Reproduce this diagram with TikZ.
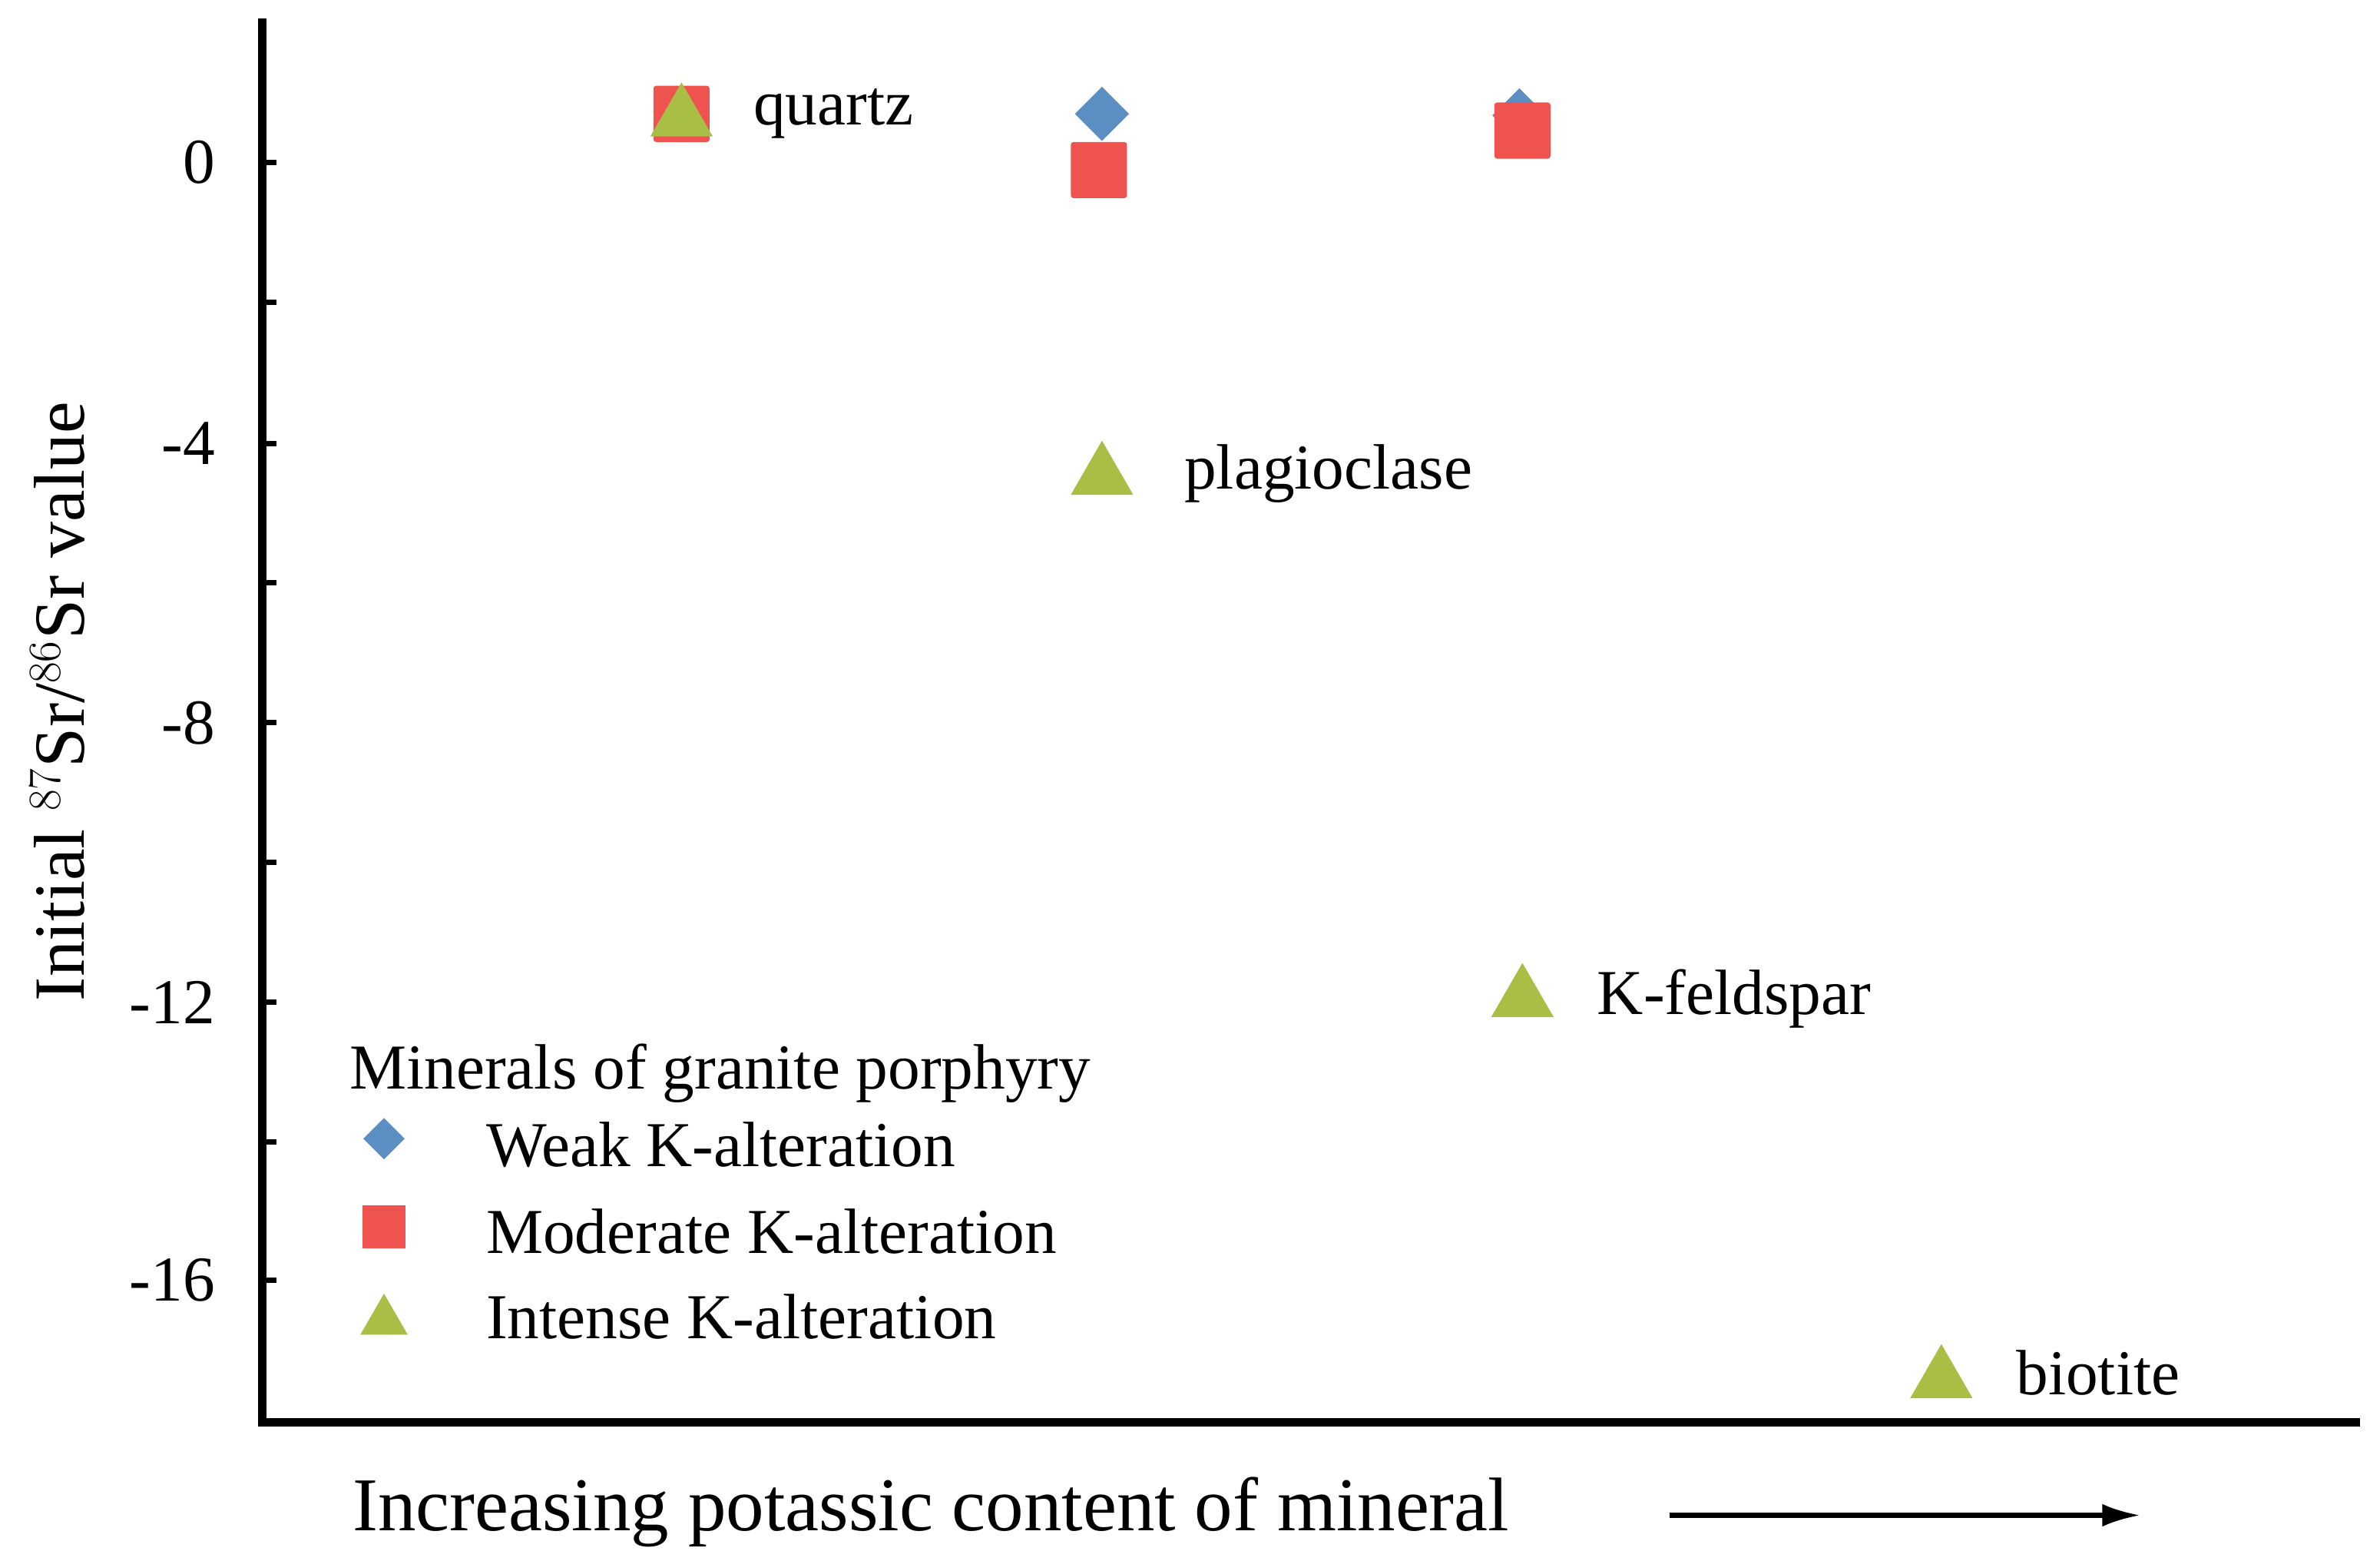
\documentclass[tikz,border=0pt]{standalone}
\usepackage{fontspec}
\setmainfont{Liberation Serif}
\usetikzlibrary{shapes.geometric,arrows.meta}
\definecolor{cblue}{HTML}{5B8FC4}
\definecolor{cred}{HTML}{EE5350}
\definecolor{cgreen}{HTML}{A9BE45}
\begin{document}
\begin{tikzpicture}[x=0.02cm,y=-0.02cm,
  txt/.style={font=\fontsize{24}{27}\selectfont,inner sep=0pt},
  dia/.style={diamond,fill=cblue,inner sep=0pt,minimum size=0.72cm},
  sq/.style={rectangle,fill=cred,inner sep=0pt,minimum size=0.74cm,rounded corners=1pt},
  tri/.style={regular polygon,regular polygon sides=3,fill=cgreen,inner sep=0pt,minimum size=0.95cm},
  lsq/.style={rectangle,fill=cred,inner sep=0pt,minimum size=0.56cm},
  ltri/.style={regular polygon,regular polygon sides=3,fill=cgreen,inner sep=0pt,minimum size=0.72cm},
  ldia/.style={diamond,fill=cblue,inner sep=0pt,minimum size=0.55cm}]
\useasboundingbox (0,0) rectangle (1568,1028);
\draw[line width=3.2pt] (173,12) -- (173,937) -- (1555,937);
\foreach \y in {107,199,292,384,476,568,660,752,843} \draw[line width=2pt] (173,\y) -- (182,\y);
\foreach \y/\t in {107/0,292/-4,476/-8,660/-12,843/-16}
  \node[txt,anchor=east] at (142,\y) {\t};
\node[txt,rotate=90,font=\fontsize{27}{30}\selectfont] at (38,462) {Initial $^{87}$Sr/$^{86}$Sr value};
% data
\node[sq] (q1) at (449,75) {};
\node[tri] (q2) at (449,78) {};
\node[txt,anchor=west] at (496,75) {quartz};
\node[dia] (p1) at (726,75) {};
\node[sq] (p2) at (724,112) {};
\node[tri] (p3) at (726,314) {};
\node[txt,anchor=west] at (780,312) {plagioclase};
\node[dia] (k1) at (1001,76) {};
\node[sq] (k2) at (1003,86) {};
\node[tri] (k3) at (1003,658) {};
\node[txt,anchor=west] at (1052,658) {K-feldspar};
\node[tri] (b1) at (1279,909) {};
\node[txt,anchor=west] at (1328,904) {biotite};
% legend
\node[txt,anchor=west] at (230,707) {Minerals of granite porphyry};
\node[ldia] (l1) at (253,750) {};
\node[txt,anchor=west] at (320,754) {Weak K-alteration};
\node[lsq] (l2) at (253,808) {};
\node[txt,anchor=west] at (320,811) {Moderate K-alteration};
\node[ltri] (l3) at (253,870) {};
\node[txt,anchor=west] at (320,867) {Intense K-alteration};
% x label
\node[txt,anchor=west,font=\fontsize{28.5}{32}\selectfont] (xl) at (232,996) {Increasing potassic content of mineral};
\coordinate (a1) at (1100,998); \coordinate (a2) at (1410,998);
\draw[line width=1.8pt,-{Latex[length=0.5cm,width=0.3cm]}] (a1) -- (a2);
\end{tikzpicture}
\end{document}
